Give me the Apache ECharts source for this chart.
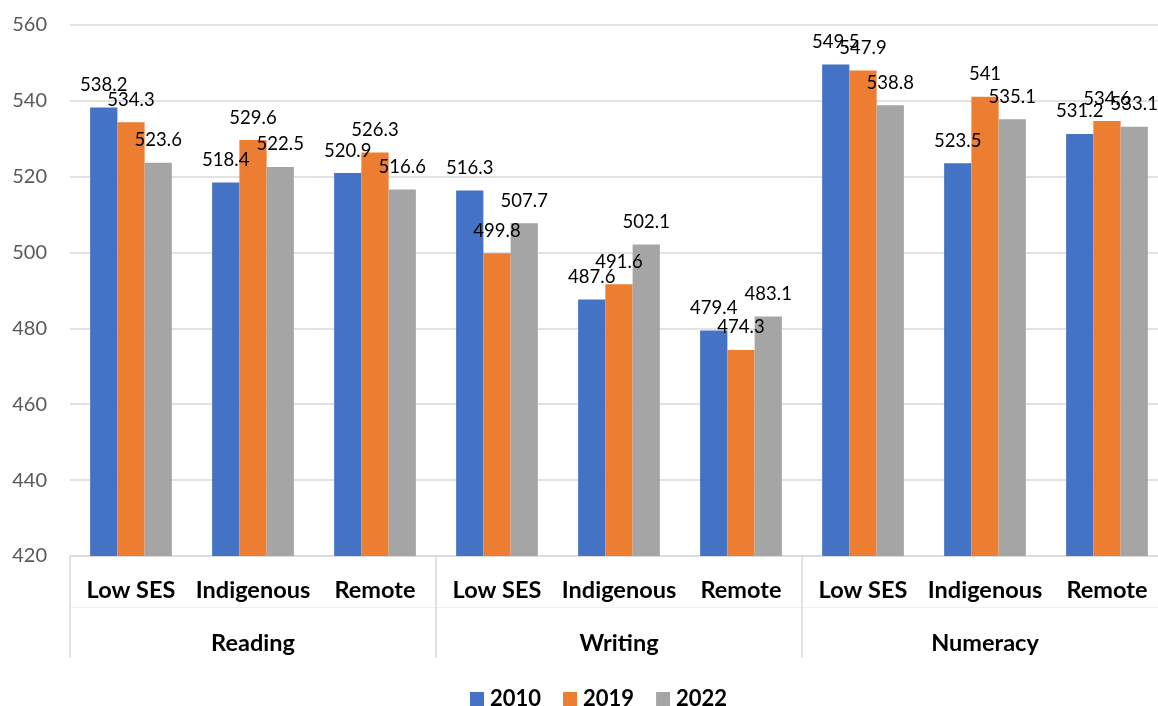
<!DOCTYPE html>
<html>
<head>
<meta charset="utf-8">
<script src="https://cdn.jsdelivr.net/npm/echarts@6/dist/echarts.min.js"></script>
<style>
  html, body { margin: 0; padding: 0; background: #ffffff; }
  #chart { width: 1158px; height: 706px; }
</style>
</head>
<body>
<div id="chart"></div>
<script>
// Sub-groups within each domain, and the domains themselves
const subCategories = ['Low SES', 'Indigenous', 'Remote', 'Low SES', 'Indigenous', 'Remote', 'Low SES', 'Indigenous', 'Remote'];
const domains = ['Reading', 'Writing', 'Numeracy'];

// Mean scores by year
const scores2010 = [538.2, 518.4, 520.9, 516.3, 487.6, 479.4, 549.5, 523.5, 531.2];
const scores2019 = [534.3, 529.6, 526.3, 499.8, 491.6, 474.3, 547.9, 541, 534.6];
const scores2022 = [523.6, 522.5, 516.6, 507.7, 502.1, 483.1, 538.8, 535.1, 533.1];

// Value axis
const yMin = 420, yMax = 560, yStep = 20;

const FONT = 'Lato, Carlito, "Open Sans", sans-serif';
const GRID_GREY = '#d9d9d9';

function barSeries(name, values, color) {
  return {
    name: name,
    type: 'bar',
    data: values,
    barGap: '0%',
    barCategoryGap: '33%',
    itemStyle: { color: color },
    label: {
      show: true,
      position: 'top',
      distance: 13,
      fontFamily: FONT,
      fontSize: 18.5,
      color: '#000000'
    }
  };
}

const chart = echarts.init(document.getElementById('chart'), null, { renderer: 'canvas' });

chart.setOption({
  animation: false,
  backgroundColor: '#ffffff',
  textStyle: { fontFamily: FONT },
  // the plot area runs a little past the right edge of the canvas
  grid: { left: 70, width: 1098, top: 24.7, bottom: 150, containLabel: false, outerBoundsMode: 'none' },
  legend: {
    data: ['2010', '2019', '2022'],
    left: 465,
    top: 683,
    itemWidth: 14,
    itemHeight: 14,
    itemGap: 22,
    icon: 'rect',
    textStyle: { fontFamily: FONT, fontSize: 22, fontWeight: 'bold', color: '#000000', padding: [0, 0, 0, 1] }
  },
  xAxis: [
    {
      type: 'category',
      data: subCategories,
      position: 'bottom',
      axisLine: { show: true, lineStyle: { color: GRID_GREY, width: 1.5 } },
      axisTick: { show: false },
      axisLabel: {
        interval: 0,
        margin: 22,
        fontFamily: FONT,
        fontSize: 23.5,
        fontWeight: 'bold',
        color: '#000000'
      }
    },
    {
      type: 'category',
      data: domains,
      position: 'bottom',
      axisLine: { show: false },
      axisTick: { show: true, interval: 0, length: 102, lineStyle: { color: GRID_GREY, width: 1.5 } },
      axisLabel: {
        interval: 0,
        margin: 75,
        fontFamily: FONT,
        fontSize: 23.5,
        fontWeight: 'bold',
        color: '#000000'
      }
    },
    {
      type: 'category',
      data: domains,
      position: 'bottom',
      offset: 51,
      axisLine: { show: true, lineStyle: { color: '#f0f0f0', width: 1 } },
      axisTick: { show: false },
      axisLabel: { show: false }
    }
  ],
  yAxis: {
    type: 'value',
    min: yMin,
    max: yMax,
    interval: yStep,
    axisLine: { show: false },
    axisTick: { show: false },
    splitLine: { show: true, lineStyle: { color: GRID_GREY, width: 1.5 } },
    axisLabel: {
      margin: 23,
      fontFamily: FONT,
      fontSize: 20,
      color: '#595959'
    }
  },
  series: [
    barSeries('2010', scores2010, '#4472C4'),
    barSeries('2019', scores2019, '#ED7D31'),
    barSeries('2022', scores2022, '#A5A5A5')
  ]
});
</script>
</body>
</html>
